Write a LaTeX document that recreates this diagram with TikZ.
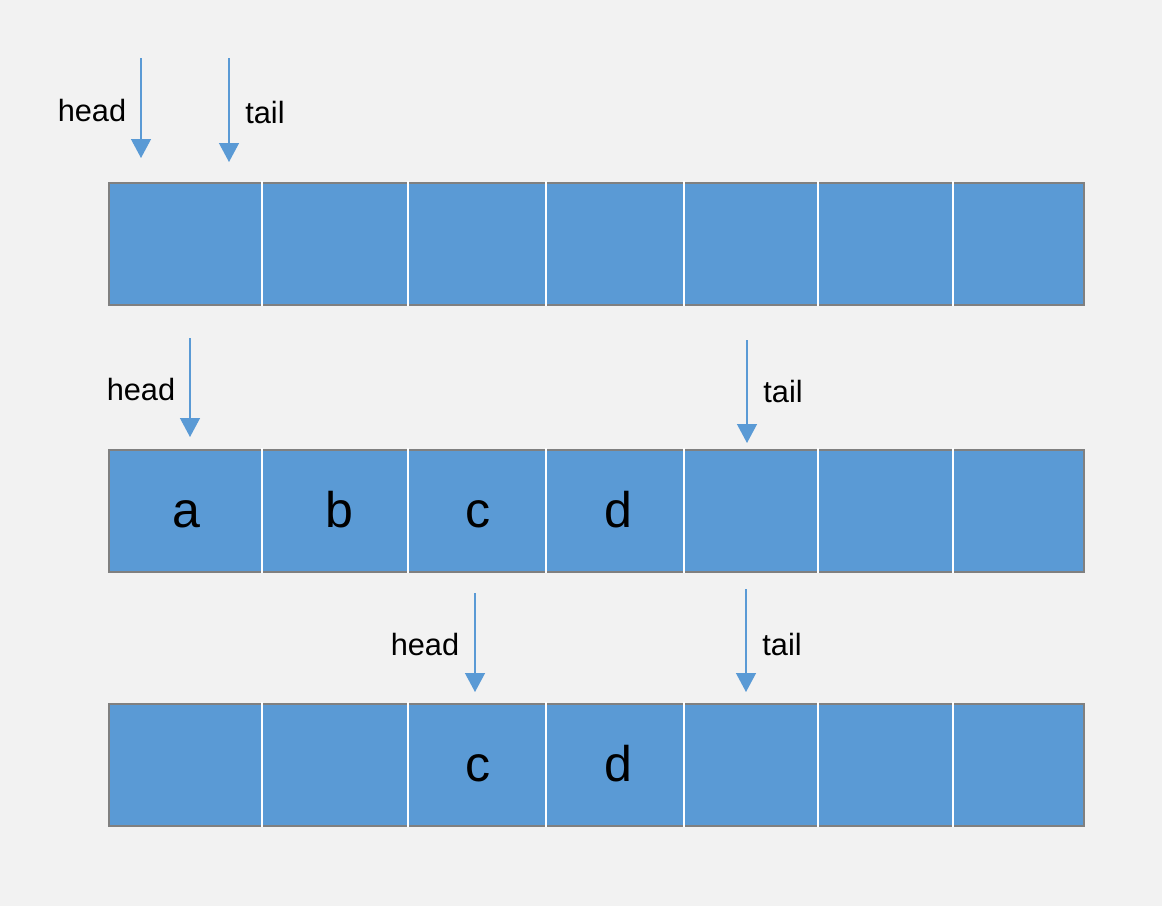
\documentclass[tikz,border=0pt]{standalone}
\usepackage{fontspec}
\setmainfont{Liberation Sans}
\usetikzlibrary{arrows.meta}
\definecolor{cellblue}{HTML}{5A9AD5}
\definecolor{bggray}{HTML}{F2F2F2}
\definecolor{rimgray}{HTML}{808080}

\begin{document}
\begin{tikzpicture}[x=0.02cm,y=-0.02cm,
		rowbox/.style={rectangle,draw=rimgray,line width=1.1pt,fill=cellblue,
			minimum width=19.5cm,minimum height=2.44cm,inner sep=0pt,anchor=north west},
		ptr/.style={draw=cellblue,line width=0.75pt,-{Triangle[width=0.4cm,length=0.38cm]}},
		ptrlabel/.style={font=\fontsize{17.5}{20}\selectfont,anchor=base,inner sep=0pt},
		letter/.style={font=\fontsize{28.5}{32}\selectfont,anchor=base,inner sep=0pt}
		]
		
		\fill[bggray] (0,0) rectangle (1162,906);
		\useasboundingbox (0,0) rectangle (1162,906);
		
		% the three rows of cells
		\node[rowbox](R1) at (108,182){};
		\node[rowbox](R2) at (108,449){};
		\node[rowbox](R3) at (108,703){};
		\foreach \r in {R1,R2,R3}
			\foreach \dx in {262,408,546,684,818,953}
				\draw[white,line width=0.9pt] (\r.north -| \dx,0) ++(0,-1) -- (\r.south -| \dx,0);
		
		% contents
		\node[letter](A2) at (186,527){a};
		\node[letter](B2) at (339,527){b};
		\node[letter](C2) at (478,527){c};
		\node[letter](D2) at (618,527){d};
		\node[letter](C3) at (478,781){c};
		\node[letter](D3) at (618,781){d};
		
		% pointers, first row
		\coordinate (H1s) at (141,58);
		\coordinate (H1e) at (141,158);
		\draw[ptr] (H1s) -- (H1e);
		\node[ptrlabel](H1) at (92,121){head};
		\coordinate (T1s) at (229,58);
		\coordinate (T1e) at (229,162);
		\draw[ptr] (T1s) -- (T1e);
		\node[ptrlabel](T1) at (265,123){tail};
		
		% pointers, second row
		\coordinate (H2s) at (190,338);
		\coordinate (H2e) at (190,437);
		\draw[ptr] (H2s) -- (H2e);
		\node[ptrlabel](H2) at (141,400){head};
		\coordinate (T2s) at (747,340);
		\coordinate (T2e) at (747,443);
		\draw[ptr] (T2s) -- (T2e);
		\node[ptrlabel](T2) at (783,402){tail};
		
		% pointers, third row
		\coordinate (H3s) at (475,593);
		\coordinate (H3e) at (475,692);
		\draw[ptr] (H3s) -- (H3e);
		\node[ptrlabel](H3) at (425,655){head};
		\coordinate (T3s) at (746,589);
		\coordinate (T3e) at (746,692);
		\draw[ptr] (T3s) -- (T3e);
		\node[ptrlabel](T3) at (782,655){tail};
	\end{tikzpicture}
\end{document}
